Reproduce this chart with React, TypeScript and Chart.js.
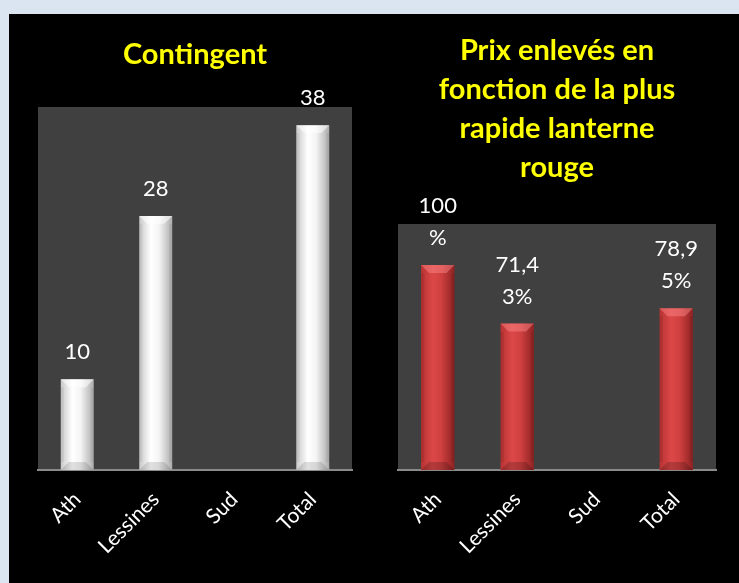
import { useEffect, useRef } from "react";
import { Chart, registerables } from "chart.js";

Chart.register(...registerables);

// ---- data ----
const categories = ["Ath", "Lessines", "Sud", "Total"];

const contingentTitle = ["Contingent"];
const contingentValues = [10, 28, null, 38];
const contingentLabels = [["10"], ["28"], [], ["38"]];
const contingentMax = 40;

const prixTitle = ["Prix enlevés en", "fonction de la plus", "rapide lanterne", "rouge"];
const prixValues = [100, 71.43, null, 78.95];
const prixLabels = [["100", "%"], ["71,4", "3%"], [], ["78,9", "5%"]];
const prixMax = 120;

// ---- styling ----
const BAR_PCT = 0.42;
const FONT = "Lato";

type Palette = {
  stops: [string, string, string, string];
  topBevel: string;
  sideBevel: string;
  bottomBevel: string;
};

const whitePalette: Palette = {
  stops: ["#c8c8c8", "#ffffff", "#f4f4f4", "#acacac"],
  topBevel: "rgba(255,255,255,0.55)",
  sideBevel: "rgba(0,0,0,0.05)",
  bottomBevel: "rgba(0,0,0,0.12)",
};

const redPalette: Palette = {
  stops: ["#b83232", "#dc4848", "#d04040", "#8e2222"],
  topBevel: "rgba(255,140,140,0.45)",
  sideBevel: "rgba(0,0,0,0.08)",
  bottomBevel: "rgba(0,0,0,0.18)",
};

function barFill(p: Palette) {
  return (ctx: any) => {
    const chart = ctx.chart;
    const a = chart.chartArea;
    if (!a || !chart.scales.x) return p.stops[1];
    const x = chart.scales.x.getPixelForValue(ctx.dataIndex);
    const w = (a.width / categories.length) * BAR_PCT;
    const g = chart.ctx.createLinearGradient(x - w / 2, 0, x + w / 2, 0);
    g.addColorStop(0, p.stops[0]);
    g.addColorStop(0.35, p.stops[1]);
    g.addColorStop(0.6, p.stops[2]);
    g.addColorStop(1, p.stops[3]);
    return g;
  };
}

const plotBg = {
  id: "plotBg",
  beforeDraw(chart: any) {
    const { ctx, chartArea: a } = chart;
    ctx.save();
    ctx.fillStyle = "#404040";
    ctx.fillRect(a.left, a.top, a.width, a.height);
    ctx.restore();
  },
};

function bevelPlugin(p: Palette) {
  return {
    id: "bevel",
    afterDatasetsDraw(chart: any) {
      const ctx = chart.ctx;
      const meta = chart.getDatasetMeta(0);
      ctx.save();
      meta.data.forEach((el: any, i: number) => {
        const v = chart.data.datasets[0].data[i];
        if (v === null || v === undefined) return;
        const { x, y, base, width } = el.getProps(["x", "y", "base", "width"], true);
        const l = x - width / 2;
        const r = x + width / 2;
        const b = Math.min(8, width * 0.24);
        ctx.fillStyle = p.topBevel;
        ctx.beginPath();
        ctx.moveTo(l, y);
        ctx.lineTo(r, y);
        ctx.lineTo(r - b, y + b);
        ctx.lineTo(l + b, y + b);
        ctx.closePath();
        ctx.fill();
        ctx.fillStyle = p.sideBevel;
        ctx.fillRect(l, y + b, b * 0.4, base - y - 2 * b);
        ctx.fillRect(r - b * 0.4, y + b, b * 0.4, base - y - 2 * b);
        ctx.fillStyle = p.bottomBevel;
        ctx.beginPath();
        ctx.moveTo(l, base);
        ctx.lineTo(r, base);
        ctx.lineTo(r - b, base - b);
        ctx.lineTo(l + b, base - b);
        ctx.closePath();
        ctx.fill();
      });
      ctx.restore();
    },
  };
}

function valueLabelPlugin(labels: string[][]) {
  return {
    id: "valueLabels",
    afterDatasetsDraw(chart: any) {
      const ctx = chart.ctx;
      const meta = chart.getDatasetMeta(0);
      ctx.save();
      ctx.fillStyle = "#ffffff";
      ctx.font = `22px ${FONT}`;
      ctx.textAlign = "center";
      ctx.textBaseline = "middle";
      meta.data.forEach((el: any, i: number) => {
        const lines = labels[i] || [];
        if (!lines.length) return;
        const { x, y } = el.getProps(["x", "y"], true);
        const n = lines.length;
        lines.forEach((t, k) => {
          ctx.fillText(t, x, y - 27 - (n - 1 - k) * 32);
        });
      });
      ctx.restore();
    },
  };
}

function makeConfig(
  values: (number | null)[],
  labels: string[][],
  title: string[],
  max: number,
  palette: Palette,
  titlePad: { top: number; bottom: number },
  layoutPad: { left: number; right: number }
): any {
  return {
    type: "bar",
    data: {
      labels: categories,
      datasets: [
        {
          data: values,
          backgroundColor: barFill(palette),
          borderWidth: 0,
          barPercentage: BAR_PCT,
          categoryPercentage: 1,
        },
      ],
    },
    options: {
      animation: false,
      responsive: false,
      maintainAspectRatio: false,
      layout: { padding: { left: layoutPad.left, right: layoutPad.right, top: 0, bottom: 0 } },
      plugins: {
        legend: { display: false },
        tooltip: { enabled: false },
        title: {
          display: true,
          text: title,
          color: "#ffff00",
          font: { family: FONT, size: 29, weight: "bold", lineHeight: 39 / 29 },
          padding: titlePad,
        },
      },
      scales: {
        x: {
          grid: { display: false, drawTicks: false },
          border: { display: true, color: "#8a8a8a", width: 2 },
          ticks: {
            color: "#ffffff",
            font: { family: FONT, size: 21 },
            minRotation: 45,
            maxRotation: 45,
            autoSkip: false,
            padding: 17,
          },
          afterFit(scale: any) {
            scale.height = 113;
          },
        },
        y: {
          display: false,
          min: 0,
          max: max,
        },
      },
    },
    plugins: [plotBg, bevelPlugin(palette), valueLabelPlugin(labels)],
  };
}

function BarChart(props: {
  values: (number | null)[];
  labels: string[][];
  title: string[];
  max: number;
  palette: Palette;
  titlePad: { top: number; bottom: number };
  layoutPad: { left: number; right: number };
  left: number;
  width: number;
}) {
  const ref = useRef<HTMLCanvasElement | null>(null);
  useEffect(() => {
    if (!ref.current) return;
    const chart = new Chart(
      ref.current,
      makeConfig(props.values, props.labels, props.title, props.max, props.palette, props.titlePad, props.layoutPad)
    );
    return () => chart.destroy();
  }, []);
  return (
    <canvas
      ref={ref}
      width={props.width}
      height={569}
      style={{ position: "absolute", left: props.left, top: 14, width: props.width, height: 569 }}
    />
  );
}

export default function App() {
  useEffect(() => {
    document.body.style.margin = "0";
  }, []);
  return (
    <div style={{ position: "relative", width: 739, height: 583, background: "#dbe5f1", overflow: "hidden" }}>
      <div style={{ position: "absolute", left: 9, top: 14, right: 0, bottom: 0, background: "#000000" }} />
      <BarChart
        values={contingentValues}
        labels={contingentLabels}
        title={contingentTitle}
        max={contingentMax}
        palette={whitePalette}
        titlePad={{ top: 21.5, bottom: 32.5 }}
        layoutPad={{ left: 20, right: 20 }}
        left={18}
        width={354}
      />
      <BarChart
        values={prixValues}
        labels={prixLabels}
        title={prixTitle}
        max={prixMax}
        palette={redPalette}
        titlePad={{ top: 17.5, bottom: 36.5 }}
        layoutPad={{ left: 23, right: 23 }}
        left={375}
        width={364}
      />
    </div>
  );
}
